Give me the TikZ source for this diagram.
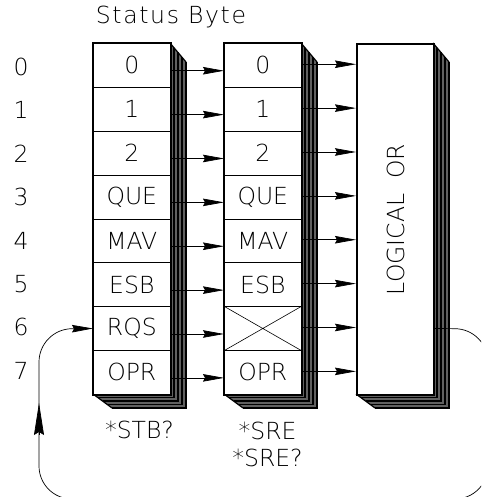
\documentclass[tikz,border=0pt]{standalone}
\usepackage{fontspec}
\setmainfont{DejaVu Sans ExtraLight}
\usetikzlibrary{arrows.meta}
\newcommand{\shadowbox}[2]{% #1 left x, #2 right x
  \fill[black!62] (#2,43) -- (#2+16,62) -- (#2+16,408) -- (#1+19,408) -- (#1,394) -- (#2,394) -- cycle;
  \foreach \t in {0,0.25,0.5,0.75,1}{
    \draw[line width=1.5pt] (#2+16*\t,43+19*\t) -- (#2+16*\t,394+14*\t) -- (#1+19*\t,394+14*\t);
  }
  \draw[line width=1.2pt] (#2,43) -- (#2+16,62) (#1,394) -- (#1+19,408);
}
\begin{document}
\begin{tikzpicture}[x=1pt,y=-1pt,
  txt/.style={font=\fontsize{23.5}{27}\selectfont, inner sep=0pt},
  cell/.style={txt, draw=black, fill=white, line width=0.6pt, minimum width=77pt, minimum height=43.875pt, anchor=north west},
  arr/.style={line width=0.7pt, -{Stealth[length=21pt,width=7.5pt,inset=2pt]}},
  uparr/.style={line width=0.7pt, -{Stealth[length=32pt,width=10pt,inset=3pt]}},
  thick box/.style={draw=black, line width=2.2pt}
  ]
\useasboundingbox (0,0) rectangle (481,497);
\clip (0,0) rectangle (481,497);
\fill[white] (0,0) rectangle (481,497);

\node[txt] (title) at (171,17) {\addfontfeature{LetterSpace=7}Status Byte};
\foreach \i in {0,...,7}{
  \node[txt] (n\i) at (21,67+43.4*\i) {\i};
}

% shadows
\shadowbox{93}{170}
\shadowbox{224}{301}
\shadowbox{356}{433}

% box 1
\foreach \t [count=\i from 0] in {0,1,2,QUE,MAV,ESB,RQS,OPR}{
  \node[cell] (a\i) at (93,43+43.875*\i) {\t};
}
\draw[thick box] (a0.north west) rectangle (a7.south east);
% box 2
\foreach \t [count=\i from 0] in {0,1,2,QUE,MAV,ESB,{},OPR}{
  \node[cell] (b\i) at (224,43+43.875*\i) {\t};
}
\draw[line width=0.6pt] (b6.north west) -- (b6.south east) (b6.north east) -- (b6.south west);
\draw[thick box] (b0.north west) rectangle (b7.south east);
% box 3
\node[thick box, fill=white, minimum width=77pt, minimum height=351pt, anchor=north west, inner sep=0pt] (orbox) at (356,43) {};
\node[txt, rotate=90] (ortext) at (orbox.center) {LOGICAL\ \ OR};

% arrows
\foreach \i in {0,...,7}{
  \draw[arr] ([yshift=-5.5pt]a\i.east) -- ([yshift=-5.5pt]b\i.west);
  \draw[arr] ([yshift=1pt]b\i.east) -- ([yshift=1pt]b\i.east -| orbox.west);
}

% labels
\node[txt] (stb) at (139.5,430) {*STB?};
\node[txt, align=center] (sre) at (267.5,444.5) {*SRE\\*SRE?};

% feedback
\coordinate (c1) at (488,329);
\coordinate (c2) at (488,499);
\coordinate (c3) at (39,499);
\coordinate (c4) at (39,329);
\coordinate (upbase) at (39,435);
\coordinate (uptip) at (39,403);
\draw[arr, rounded corners=33pt] (orbox.east |- a6.west) -- (c1) -- (c2) -- (c3) -- (c4) -- (a6.west);
\draw[uparr] (upbase) -- (uptip);
\end{tikzpicture}
\end{document}
